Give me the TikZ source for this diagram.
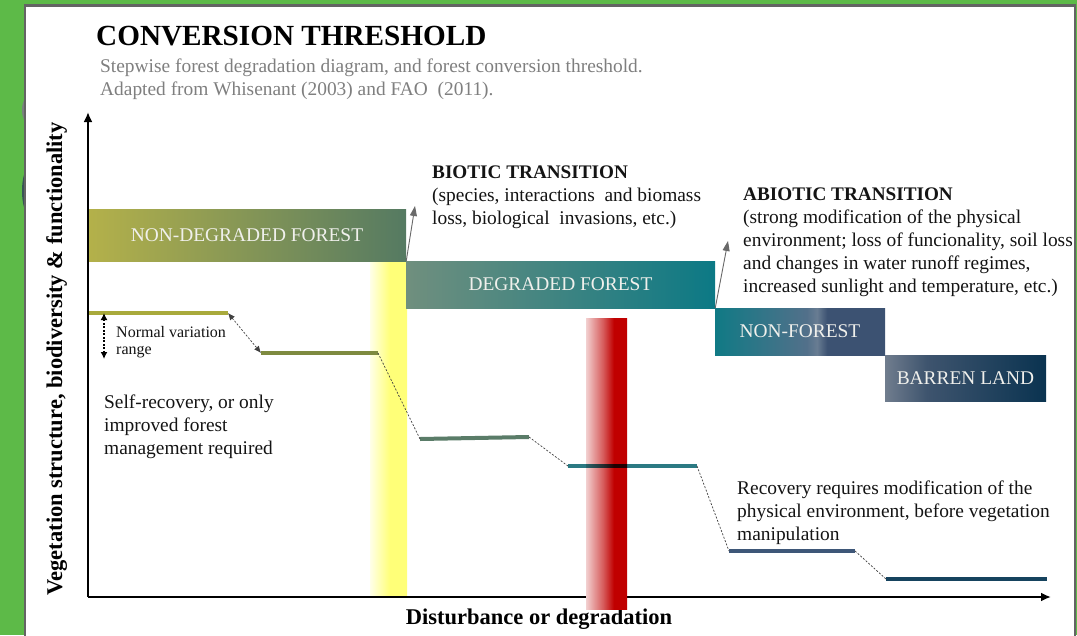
\documentclass[tikz,border=0pt]{standalone}
\usepackage{fontspec}
\setmainfont{Liberation Serif}
\usetikzlibrary{arrows.meta}
\definecolor{bggreen}{RGB}{93,186,72}
\definecolor{panelborder}{RGB}{100,100,100}
\definecolor{bumpA}{RGB}{120,130,125}
\definecolor{bumpB}{RGB}{55,85,85}
\definecolor{subgrey}{RGB}{127,127,127}
\definecolor{boxtext}{RGB}{240,240,236}
\definecolor{ndL}{RGB}{180,177,74}
\definecolor{ndR}{RGB}{85,122,98}
\definecolor{dfL}{RGB}{112,143,126}
\definecolor{dfR}{RGB}{12,121,133}
\definecolor{nfA}{RGB}{16,122,133}
\definecolor{nfB}{RGB}{82,112,138}
\definecolor{nfC}{RGB}{104,124,146}
\definecolor{nfD}{RGB}{60,82,114}
\definecolor{blA}{RGB}{112,125,142}
\definecolor{blB}{RGB}{62,84,110}
\definecolor{blC}{RGB}{10,51,80}
\definecolor{yelA}{RGB}{255,255,232}
\definecolor{yelB}{RGB}{255,255,120}
\definecolor{redA}{RGB}{242,208,208}
\definecolor{redB}{RGB}{214,90,90}
\definecolor{redC}{RGB}{192,0,0}
\definecolor{lvA}{RGB}{169,170,60}
\definecolor{lvB}{RGB}{126,138,64}
\definecolor{lvC}{RGB}{90,124,104}
\definecolor{lvD}{RGB}{43,122,131}
\definecolor{lvE}{RGB}{62,87,120}
\definecolor{lvF}{RGB}{22,67,94}
\definecolor{tarrowc}{RGB}{105,105,105}
\pgfdeclarehorizontalshading{nfshade}{100bp}{color(0bp)=(nfA); color(25bp)=(nfA); color(52bp)=(nfB); color(55bp)=(nfC); color(58bp)=(nfD); color(75bp)=(nfD); color(100bp)=(nfD)}
\pgfdeclarehorizontalshading{blshade}{100bp}{color(0bp)=(blA); color(25bp)=(blA); color(38bp)=(blB); color(75bp)=(blC); color(100bp)=(blC)}
\pgfdeclarehorizontalshading{redshade}{100bp}{color(0bp)=(redA); color(25bp)=(redA); color(46bp)=(redB); color(59bp)=(redC); color(100bp)=(redC)}
\pgfdeclarehorizontalshading{yelshade}{100bp}{color(0bp)=(yelA); color(25bp)=(yelA); color(52bp)=(yelB); color(100bp)=(yelB)}
\begin{document}
\begin{tikzpicture}[x=1pt,y=-1pt,
  txt/.style={inner sep=0pt, anchor=base west, font=\fontsize{19.4}{23}\selectfont, text=black!92},
  btxt/.style={txt, font=\bfseries\fontsize{19.2}{23}\selectfont},
  boxlbl/.style={rectangle, inner sep=0pt, font=\fontsize{19.4}{23}\selectfont, text=boxtext},
  level/.style={line width=4pt},
  dashc/.style={line width=0.7pt, draw=black!75, dash pattern=on 2pt off 1.6pt},
  axisline/.style={line width=2pt, -{Latex[length=10pt,width=9pt]}},
  tarrow/.style={line width=0.9pt, draw=tarrowc, -{Triangle[length=10pt,width=7pt]}, tarrowc}
]
\useasboundingbox (0,0) rectangle (1077,635);
% background and panel
\fill[bggreen] (0,0) rectangle (1077,635);
\fill[bumpA] (29,110) ellipse [x radius=7, y radius=14];
\fill[bumpB] (29,191) ellipse [x radius=7, y radius=23];
\draw[panelborder, fill=white, line width=2.5pt] (25,5.5) rectangle (1075,660);

% title
\node[inner sep=0pt, anchor=base west, font=\bfseries\fontsize{29.2}{34}\selectfont] (title) at (96,45) {CONVERSION THRESHOLD};
\node[txt, text=subgrey] (sub1) at (100,72) {Stepwise forest degradation diagram, and forest conversion threshold.};
\node[txt, text=subgrey] (sub2) at (100,95) {Adapted from Whisenant (2003) and FAO\ \ (2011).};

% threshold bars
\shade[shading=yelshade] (370,261) rectangle (407,595);

% state boxes
\node[boxlbl, minimum width=318pt, minimum height=52pt, left color=ndL, right color=ndR] (nd) at (247,235) {NON-DEGRADED FOREST};
\node[boxlbl, minimum width=309pt, minimum height=47pt, left color=dfL, right color=dfR] (df) at (560.5,284.5) {DEGRADED FOREST};
\node[boxlbl, minimum width=170pt, minimum height=47pt, shading=nfshade] (nf) at (800,331.5) {NON-FOREST};
\node[boxlbl, minimum width=161pt, minimum height=46pt, shading=blshade] (bl) at (965.5,378) {BARREN LAND};

% axes
\coordinate (origin) at (88,597);
\coordinate (ytip) at (88,112);
\coordinate (xtip) at (1051,597);
\draw[axisline] (origin) -- (ytip);
\draw[axisline] (origin) -- (xtip);
\node[rotate=90, anchor=base, inner sep=0pt, font=\bfseries\fontsize{22.5}{26}\selectfont] (ylab) at (62,359) {Vegetation structure, biodiversity \& functionality};
\node[anchor=base, inner sep=0pt, font=\bfseries\fontsize{22.5}{26}\selectfont] (xlab) at (539,624) {Disturbance or degradation};

% red threshold bar
\shade[shading=redshade] (586,318) rectangle (627,609);

% level lines
\coordinate (l1a) at (89,313);  \coordinate (l1b) at (228,313);
\coordinate (l2a) at (261,353); \coordinate (l2b) at (378,353);
\coordinate (l3a) at (420,439); \coordinate (l3b) at (529,437);
\coordinate (l4a) at (568,466); \coordinate (l4b) at (697,466);
\coordinate (l5a) at (729,551); \coordinate (l5b) at (855,551);
\coordinate (l6a) at (886,579); \coordinate (l6b) at (1047,579);
\draw[level, lvA] (l1a) -- (l1b);
\draw[level, lvB] (l2a) -- (l2b);
\draw[level, lvC] (l3a) -- (l3b);
\begin{scope}[blend mode=multiply]
\draw[level, lvD] (l4a) -- (l4b);
\end{scope}
\draw[level, lvE] (l5a) -- (l5b);
\draw[level, lvF] (l6a) -- (l6b);
\draw[dashc, {Latex[length=7pt,width=6pt]}-{Latex[length=7pt,width=6pt]}] (l1b) -- (l2a);
\draw[dashc] (l2b) -- (l3a);
\draw[dashc] (l3b) -- (l4a);
\draw[dashc] (l4b) -- (l5a);
\draw[dashc] (l5b) -- (l6a);

% normal variation range
\coordinate (nv1) at (104,313);
\coordinate (nv2) at (104,359);
\draw[line width=1.8pt, dash pattern=on 2pt off 1.5pt, {Latex[length=7pt,width=7pt]}-{Latex[length=7pt,width=7pt]}] (nv1) -- (nv2);
\node[txt, font=\fontsize{16}{19}\selectfont] (nvr1) at (116,337) {Normal variation};
\node[txt, font=\fontsize{16}{19}\selectfont] (nvr2) at (116,354) {range};

% transitions
\coordinate (btip) at (415,206);
\coordinate (atip) at (728,241);
\draw[tarrow] (nd.south east) -- (btip);
\draw[tarrow] (df.south east) -- (atip);
\node[btxt] (bt0) at (432,178) {BIOTIC TRANSITION};
\node[txt] (bt1) at (432,201) {(species, interactions\ \ and biomass};
\node[txt] (bt2) at (432,224) {loss, biological\ \ invasions, etc.)};
\node[btxt] (at0) at (743,200) {ABIOTIC TRANSITION};
\node[txt] (at1) at (743,223) {(strong modification of the physical};
\node[txt] (at2) at (743,246) {environment; loss of funcionality, soil loss};
\node[txt] (at3) at (743,269) {and changes in water runoff regimes,};
\node[txt] (at4) at (743,292) {increased sunlight and temperature, etc.)};

% recovery notes
\node[txt] (sr1) at (104,408) {Self-recovery, or only};
\node[txt] (sr2) at (104,431) {improved forest};
\node[txt] (sr3) at (104,454) {management required};
\node[txt] (rr1) at (737,494) {Recovery requires modification of the};
\node[txt] (rr2) at (737,517) {physical environment, before vegetation};
\node[txt] (rr3) at (737,540) {manipulation};
\end{tikzpicture}
\end{document}
